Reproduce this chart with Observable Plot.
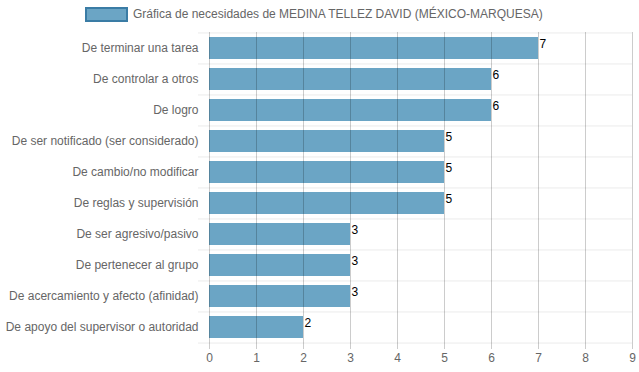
<!DOCTYPE html>
<html><head><meta charset="utf-8">
<script src="https://cdn.jsdelivr.net/npm/d3@7"></script>
<script src="https://cdn.jsdelivr.net/npm/@observablehq/plot@0.6"></script>
<style>
body{margin:0;background:#fff;font-family:"Liberation Sans",Arial,sans-serif;}
#legend{height:30px;position:relative;}
#legend .sw{position:absolute;left:85px;top:7px;width:39px;height:11px;background:#6ba5c5;border:2px solid #3a7ca5;}
#legend .tx{position:absolute;left:133px;top:7px;font-size:12px;color:#666;white-space:nowrap;}
</style></head>
<body>
<div id="legend"><div class="sw"></div><div class="tx"></div></div>
<div id="chart"></div>
<script>
const title = "Gráfica de necesidades de MEDINA TELLEZ DAVID (MÉXICO-MARQUESA)";
const categories = ["De terminar una tarea","De controlar a otros","De logro","De ser notificado (ser considerado)","De cambio/no modificar","De reglas y supervisión","De ser agresivo/pasivo","De pertenecer al grupo","De acercamiento y afecto (afinidad)","De apoyo del supervisor o autoridad"];
const values = [7,6,6,5,5,5,3,3,3,2];
const xTicks = [0,1,2,3,4,5,6,7,8,9];

document.querySelector("#legend .tx").textContent = title;
const data = categories.map((c,i)=>({cat:c, v:values[i]}));

const H = 342, mT = 2, mB = 29;
const step = (H - mT - mB) / categories.length;

const chart = Plot.plot({
  width: 639, height: H,
  marginLeft: 209, marginRight: 7, marginTop: mT, marginBottom: mB,
  style: {fontFamily: '"Liberation Sans", Arial, sans-serif', fontSize: "12px", color: "#666", background: "#fff"},
  x: {domain: [0, 9], ticks: xTicks, tickSize: 0, tickPadding: 10, label: null},
  y: {domain: categories, paddingInner: 0.29, paddingOuter: 0.145, tickSize: 0, tickPadding: 11, label: null},
  marks: [
    Plot.ruleY(categories, {y: d => d, dy: -step/2, stroke: "#ebebeb", insetLeft: -11}),
    Plot.ruleY(categories.slice(-1), {y: d => d, dy: step/2, stroke: "#ebebeb", insetLeft: -11}),
    Plot.barX(data, {x: "v", y: "cat", fill: "#6ba5c5"}),
    Plot.ruleX(xTicks, {x: d => d, stroke: "#000", strokeOpacity: 0.2, insetBottom: -6}),
    Plot.ruleY([0], {frameAnchor: "bottom", stroke: "#ccc"}),
    Plot.text(data, {x: "v", y: "cat", text: d => String(d.v), textAnchor: "start", dx: 1, dy: -4, fill: "#000", fontSize: 12}),
    Plot.axisX({ticks: xTicks, tickSize: 0, tickPadding: 10, fill: "#666"}),
    Plot.axisY({tickSize: 0, tickPadding: 11, fill: "#666"})
  ]
});
document.getElementById("chart").appendChild(chart);
</script>
</body></html>
